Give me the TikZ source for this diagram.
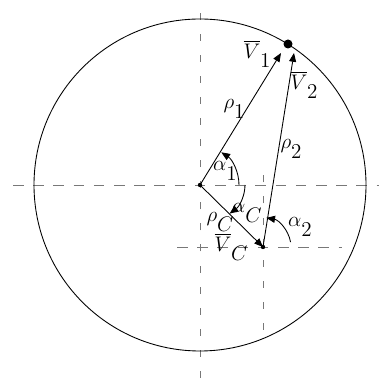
\documentclass[tikz,border=0pt]{standalone}
\usepackage{fontspec}
\setmainfont{Liberation Serif}
\usepackage{tikz}
\usetikzlibrary{arrows.meta}
\definecolor{orb@gray}{RGB}{120,120,120}
\newcommand{\dn}[1]{\lower0.45em\hbox{$#1$}}
\tikzset{
  orbit/.style={
    x=0.02cm, y=0.02cm,
    font=\fontsize{12}{14}\selectfont,
    >={Triangle[length=5pt,width=4pt]},
    line width=0.5pt
  },
  axish/.style={draw=orb@gray, line width=0.45pt, dash pattern=on 6pt off 5.5pt},  % horizontal guide
  axisv/.style={draw=orb@gray, line width=0.45pt, dash pattern=on 4pt off 8pt},    % vertical guide
  vecline/.style={->, line width=0.5pt},
  anglearc/.style={->, line width=0.5pt},
  lbl/.style={inner sep=0pt}
}
\begin{document}
\begin{tikzpicture}[orbit]
\useasboundingbox (0,0) rectangle (379,378);

% Points
\coordinate (o) at (200,193);
\coordinate (c) at (263,131);
\coordinate (p) at (288,334);
\coordinate (v1) at (281,325);
\coordinate (v2) at (294,325);

% Guides
\draw[axish] (13,193) -- (379,193);
\draw[axisv] (200,0) -- (200,378);
\draw[axish] (177,131) -- (342,131);
\draw[axisv] (263,48) -- (263,208);

% Circle
\draw[line width=0.5pt] (o) circle (166);

% Vectors
\draw[vecline] (o) -- (v1);
\draw[vecline] (c) -- (v2);
\draw[vecline] (o) -- (c);

% Angles
\draw[anglearc] ([shift={(39,0)}]o) arc[start angle=0, end angle=57, radius=39];
\draw[anglearc] ([shift={(45,0)}]o) arc[start angle=0, end angle=-49, x radius=45, y radius=38];
\draw[anglearc] ([shift={(10:28)}]c) arc[start angle=10, end angle=80, radius=30];

% Dots
\fill (p) circle (4.5);
\fill (o) circle (2.2);
\fill (c) circle (2.2);

% Labels
\node[lbl] (lv1) at (257,324) {$\overline{V}\dn{1}$};
\node[lbl] (lv2) at (304,293) {$\overline{V}\dn{2}$};
\node[lbl] (lr1) at (234,269) {$\rho\dn{1}$};
\node[lbl] (lr2) at (291,229) {$\rho\dn{2}$};
\node[lbl] (la1) at (225,207) {$\alpha\dn{1}$};
\node[lbl] (lac) at (247,165) {$\alpha\dn{C}$};
\node[lbl] (lrc) at (220,156) {$\rho\dn{C}$};
\node[lbl] (lvc) at (231,131) {$\overline{V}\dn{C}$};
\node[lbl] (la2) at (300,151) {$\alpha\dn{2}$};

\end{tikzpicture}
\end{document}
